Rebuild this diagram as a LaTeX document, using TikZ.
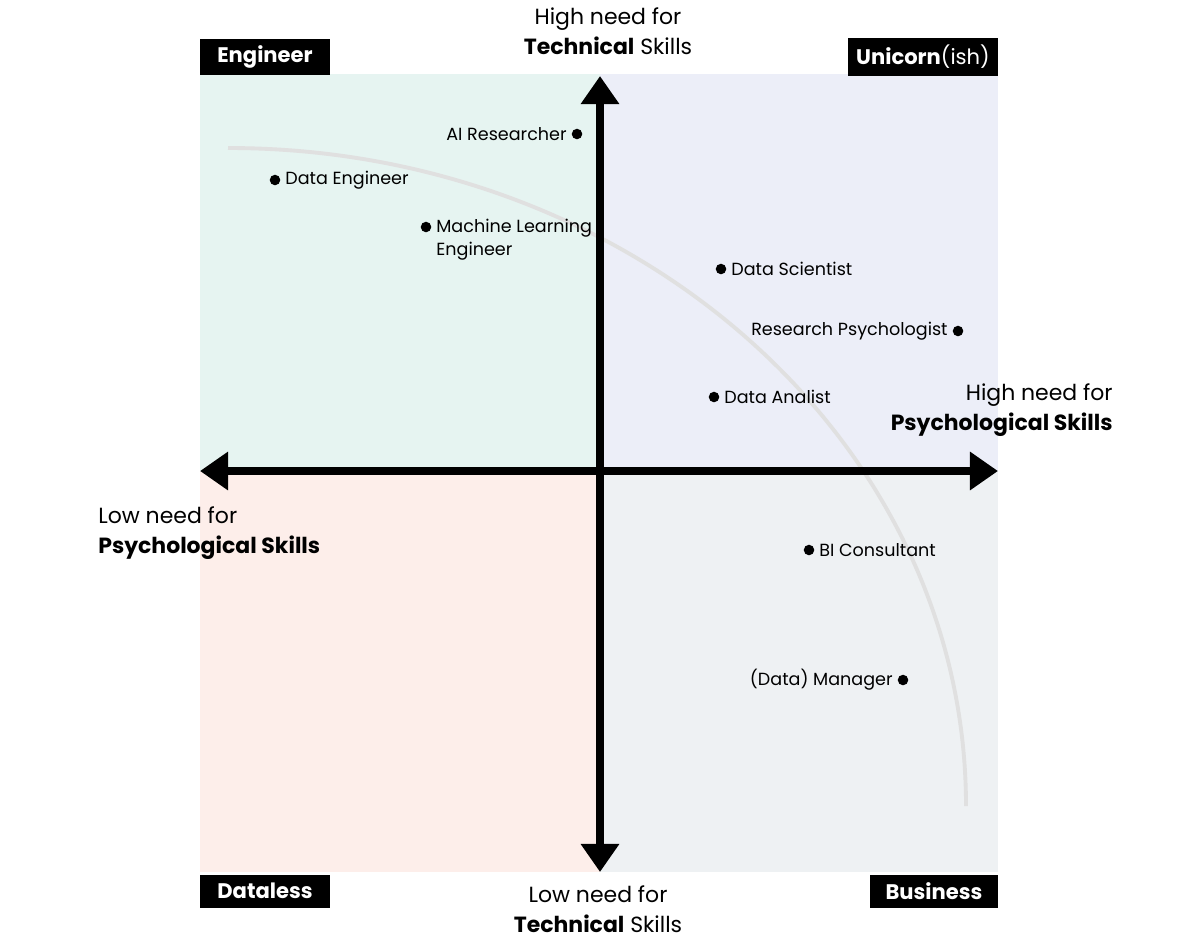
\documentclass[tikz,border=0pt]{standalone}
\usepackage{fontspec}
\setmainfont{Poppins}
\usetikzlibrary{arrows.meta}
\definecolor{qtl}{HTML}{E6F4F1}
\definecolor{qtr}{HTML}{ECEEF8}
\definecolor{qbl}{HTML}{FDEEEA}
\definecolor{qbr}{HTML}{EEF1F3}
\begin{document}
\begin{tikzpicture}[x=0.02cm,y=-0.02cm,
  pt/.style={circle,fill=black,inner sep=0pt,minimum size=6pt},
  lbl/.style={font=\fontsize{10}{13}\selectfont,inner sep=2.5pt},
  ax/.style={font=\fontsize{12.5}{17}\selectfont,align=left,inner sep=0pt},
  tag/.style={fill=black,text=white,font=\fontsize{12}{14}\selectfont\bfseries,minimum height=33*0.02cm,inner sep=4pt},
  arr/.style={line width=4.5pt,-{Triangle[length=16pt,width=21pt]}}]
\useasboundingbox (0,0) rectangle (1200,938);
\fill[qtl] (200,74) rectangle (600,471);
\fill[qtr] (600,74) rectangle (998,471);
\fill[qbl] (200,471) rectangle (600,872);
\fill[qbr] (600,471) rectangle (998,872);
\draw[black!12,line width=2.2pt] (228,148) arc[start angle=90,end angle=0,x radius=738,y radius=-658];
\coordinate (c) at (600,471);
\coordinate (t) at (600,76);
\coordinate (b) at (600,872);
\coordinate (l) at (200,471);
\coordinate (r) at (998,471);
\draw[arr] (c) -- (t);
\draw[arr] (c) -- (b);
\draw[arr] (c) -- (l);
\draw[arr] (c) -- (r);
\node[tag,minimum width=130*0.02cm] (eng) at (265,57) {Engineer};
\node[tag,minimum width=150*0.02cm] (uni) at (923,57) {Unicorn{\mdseries(ish)}};
\node[tag,minimum width=130*0.02cm] (dl) at (265,891) {Dataless};
\node[tag,minimum width=128*0.02cm] (bus) at (934,891) {Business};
\node[ax,align=center] (ht) at (608,31) {High need for\\\textbf{Technical} Skills};
\node[ax,align=center] (lt) at (598,909) {Low need for\\\textbf{Technical} Skills};
\node[ax,align=right,anchor=east] (hp) at (1113,410) {High need for\\\textbf{Psychological Skills}};
\node[ax,anchor=west] (lp) at (98,533) {Low need for\\\textbf{Psychological Skills}};
\node[pt] (p1) at (577,134) {}; \node[lbl,anchor=east] at (p1.west) {AI Researcher};
\node[pt] (p2) at (275,180) {}; \node[lbl,anchor=west] at (p2.east) {Data Engineer};
\node[pt] (p3) at (426,227) {}; \node[lbl,anchor=north west,align=left] at ([yshift=7pt]p3.east) {Machine Learning\\Engineer};
\node[pt] (p4) at (721,269) {}; \node[lbl,anchor=west] at (p4.east) {Data Scientist};
\node[pt] (p5) at (958,331) {}; \node[lbl,anchor=east] at (p5.west) {Research Psychologist};
\node[pt] (p6) at (714,397) {}; \node[lbl,anchor=west] at (p6.east) {Data Analist};
\node[pt] (p7) at (809,550) {}; \node[lbl,anchor=west] at (p7.east) {BI Consultant};
\node[pt] (p8) at (903,680) {}; \node[lbl,anchor=east] at (p8.west) {(Data) Manager};
\end{tikzpicture}
\end{document}
